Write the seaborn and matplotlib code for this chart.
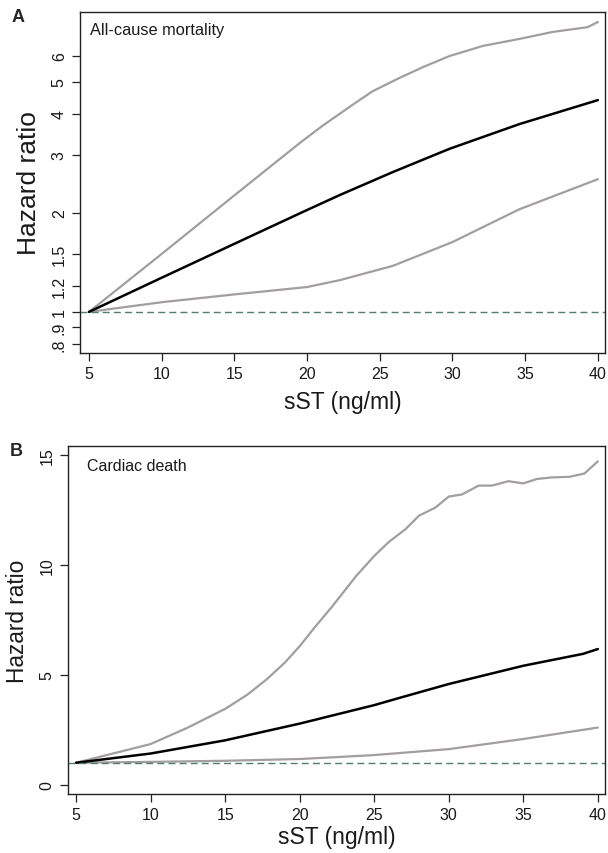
import numpy as np
import pandas as pd
import matplotlib
matplotlib.use("Agg")
import matplotlib.pyplot as plt
import seaborn as sns

sns.set_style("white")
plt.rcParams['font.family'] = ['Liberation Sans', 'DejaVu Sans']

# ---- Panel A: all-cause mortality (log scale) ----
a_hr_x = [5, 10, 15, 20, 22.3, 25.9, 29.8, 34.6, 40]
a_hr_y = [1.0, 1.27, 1.61, 2.04, 2.27, 2.66, 3.13, 3.72, 4.40]
a_up_x = [5, 10, 15, 17, 19.5, 21, 23, 24.5, 26.4, 28, 29.8, 32.1, 34.6, 36.9, 39.3, 40]
a_up_y = [1.0, 1.50, 2.26, 2.66, 3.26, 3.66, 4.22, 4.68, 5.15, 5.55, 5.99, 6.43, 6.75, 7.09, 7.33, 7.6]
a_lo_x = [5, 10, 15, 20, 22.3, 25.9, 30, 34.6, 40]
a_lo_y = [1.0, 1.07, 1.13, 1.19, 1.25, 1.38, 1.63, 2.05, 2.53]
a_yticks = [0.8, 0.9, 1, 1.2, 1.5, 2, 3, 4, 5, 6]
a_ylabels = ['.8', '.9', '1', '1.2', '1.5', '2', '3', '4', '5', '6']

# ---- Panel B: cardiac death (linear scale) ----
b_hr_x = [5, 10, 15, 20, 22.5, 25, 26.7, 30, 35, 39, 40]
b_hr_y = [1.0, 1.42, 2.02, 2.78, 3.2, 3.62, 3.95, 4.58, 5.41, 5.95, 6.17]
b_up_x = [5, 10, 12.5, 15, 16.5, 17.8, 19, 20, 21, 22.2, 23.8, 25, 26, 27.1, 28, 29.1,
          30, 30.9, 32, 32.9, 34, 35, 35.9, 36.9, 38.1, 39.1, 40]
b_up_y = [1.0, 1.85, 2.6, 3.45, 4.1, 4.8, 5.55, 6.3, 7.15, 8.12, 9.5, 10.4, 11.05, 11.62,
          12.23, 12.6, 13.1, 13.2, 13.6, 13.6, 13.8, 13.7, 13.9, 13.97, 14.0, 14.15, 14.7]
b_lo_x = [5, 10, 15, 20, 22, 25, 30, 35, 40]
b_lo_y = [1.0, 1.04, 1.09, 1.17, 1.24, 1.35, 1.62, 2.08, 2.6]
b_yticks = [0, 5, 10, 15]

x_ticks = [5, 10, 15, 20, 25, 30, 35, 40]

GREY = '#a29e9e'
DASH = '#4f7d6f'
INK = '#1a1a1a'

fig = plt.figure(figsize=(6.08, 8.54), dpi=100)
ax_a = fig.add_axes([80/608, 1-354/854, 525/608, 341/854])
ax_b = fig.add_axes([68/608, 1-795/854, 537/608, 348/854])


def draw(ax, up, hr, lo, ylab_size, xpad):
    for xs, ys in [up, lo]:
        sns.lineplot(x=xs, y=ys, ax=ax, color=GREY, lw=1.6, estimator=None, sort=False)
    sns.lineplot(x=hr[0], y=hr[1], ax=ax, color='black', lw=1.8, estimator=None, sort=False)
    ax.axhline(1, color=DASH, lw=1.0, ls=(0, (5, 3)))
    for s in ax.spines.values():
        s.set_color('#222222')
        s.set_linewidth(1.0)
    ax.set_xticks(x_ticks)
    ax.tick_params(axis='both', direction='out', length=6, width=0.9, color='#222222',
                   labelsize=11.5, labelcolor=INK, bottom=True, left=True)
    ax.tick_params(axis='y', labelrotation=90)
    ax.set_xlabel('sST (ng/ml)', fontsize=16.5, labelpad=xpad, color=INK)
    ax.set_ylabel('Hazard ratio', fontsize=ylab_size, labelpad=8, color=INK)


# panel A
draw(ax_a, (a_up_x, a_up_y), (a_hr_x, a_hr_y), (a_lo_x, a_lo_y), 19, 6)
ax_a.set_yscale('log')
ax_a.set_xlim(4.38, 40.49)
ax_a.set_ylim(0.75, 8.15)
ax_a.set_yticks(a_yticks)
ax_a.set_yticklabels(a_ylabels)
ax_a.minorticks_off()
for lab in ax_a.get_yticklabels():
    lab.set_va('center')
ax_a.text(0.02, 0.97, 'All-cause mortality', transform=ax_a.transAxes,
          fontsize=11.8, va='top', ha='left', color=INK)
fig.text(12/608, 1-18/854, 'A', fontsize=13, fontweight='bold', va='center', ha='left')

# panel B
draw(ax_b, (b_up_x, b_up_y), (b_hr_x, b_hr_y), (b_lo_x, b_lo_y), 16.3, 2)
ax_b.set_xlim(4.46, 40.48)
ax_b.set_ylim(-0.42, 15.4)
ax_b.set_yticks(b_yticks)
ax_b.set_yticklabels([str(v) for v in b_yticks])
for lab in ax_b.get_yticklabels():
    lab.set_va('center')
ax_b.text(0.035, 0.965, 'Cardiac death', transform=ax_b.transAxes,
          fontsize=11.5, va='top', ha='left', color=INK)
fig.text(10/608, 1-452/854, 'B', fontsize=13, fontweight='bold', va='center', ha='left')

fig.savefig('out.png', dpi=100)
